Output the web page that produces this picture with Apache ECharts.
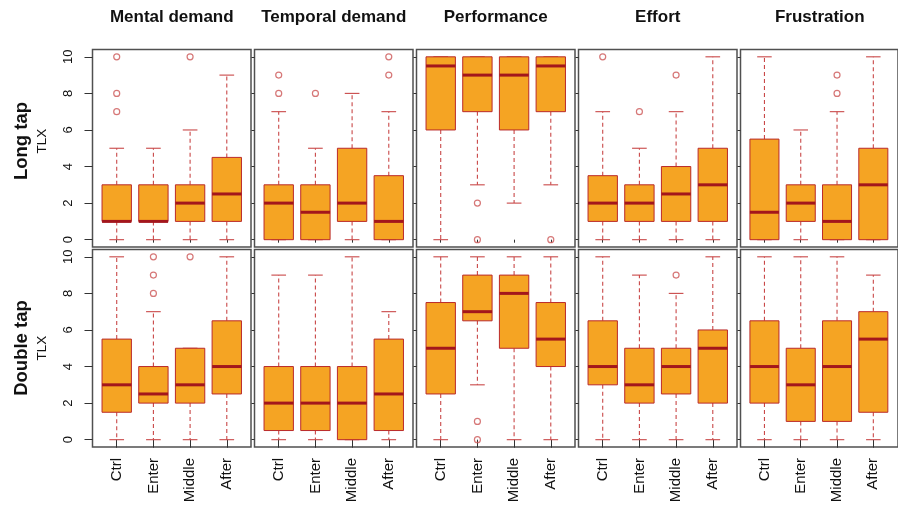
<!DOCTYPE html>
<html><head><meta charset="utf-8">
<script src="https://cdn.jsdelivr.net/npm/echarts@6/dist/echarts.min.js"></script>
<style>html,body{margin:0;padding:0;background:#fff}#c{width:898px;height:506px}</style>
</head><body><div id="c"></div>
<script>
const categories = ['Ctrl', 'Enter', 'Middle', 'After'];
const measures = ['Mental demand', 'Temporal demand', 'Performance', 'Effort', 'Frustration'];
const rowLabels = ['Long tap', 'Double tap'];
const rowSubLabel = 'TLX';
const yTicks = [0, 2, 4, 6, 8, 10];

// five-number summaries [low whisker, Q1, median, Q3, high whisker], one per category
const longMental = [[0,1,1,3,5],[0,1,1,3,5],[0,1,2,3,6],[0,1,2.5,4.5,9]];
const longTemporal = [[0,0,2,3,7],[0,0,1.5,3,5],[0,1,2,5,8],[0,0,1,3.5,7]];
const longPerformance = [[0,6,9.5,10,10],[3,7,9,10,10],[2,6,9,10,10],[3,7,9.5,10,10]];
const longEffort = [[0,1,2,3.5,7],[0,1,2,3,5],[0,1,2.5,4,7],[0,1,3,5,10]];
const longFrustration = [[0,0,1.5,5.5,10],[0,1,2,3,6],[0,0,1,3,7],[0,0,3,5,10]];
const doubleMental = [[0,1.5,3,5.5,10],[0,2,2.5,4,7],[0,2,3,5,5],[0,2.5,4,6.5,10]];
const doubleTemporal = [[0,0.5,2,4,9],[0,0.5,2,4,9],[0,0,2,4,10],[0,0.5,2.5,5.5,7]];
const doublePerformance = [[0,2.5,5,7.5,10],[3,6.5,7,9,10],[0,5,8,9,10],[0,4,5.5,7.5,10]];
const doubleEffort = [[0,3,4,6.5,10],[0,2,3,5,9],[0,2.5,4,5,8],[0,2,5,6,10]];
const doubleFrustration = [[0,2,4,6.5,10],[0,1,3,5,10],[0,1,4,6.5,10],[0,1.5,5.5,7,9]];

// outliers [category index, value]
const longMentalOut = [[0,7],[0,8],[0,10],[2,10]];
const longTemporalOut = [[0,8],[0,9],[1,8],[3,9],[3,10]];
const longPerformanceOut = [[1,2],[1,0],[3,0]];
const longEffortOut = [[0,10],[1,7],[2,9]];
const longFrustrationOut = [[2,8],[2,9]];
const doubleMentalOut = [[1,8],[1,9],[1,10],[2,10]];
const doubleTemporalOut = [];
const doublePerformanceOut = [[1,1],[1,0]];
const doubleEffortOut = [[2,9]];
const doubleFrustrationOut = [];

const boxRows = [
  [longMental, longTemporal, longPerformance, longEffort, longFrustration],
  [doubleMental, doubleTemporal, doublePerformance, doubleEffort, doubleFrustration]
];
const outRows = [
  [longMentalOut, longTemporalOut, longPerformanceOut, longEffortOut, longFrustrationOut],
  [doubleMentalOut, doubleTemporalOut, doublePerformanceOut, doubleEffortOut, doubleFrustrationOut]
];

const FILL = '#F5A423', BORDER = '#BA2A2A', MED = '#A3161C', WHISK = '#C94848', FRAME = '#505050';
const FONT = 'Liberation Sans, Arial, sans-serif';
const panelLeft = 92.5, panelStep = 162, panelW = 158.5;
const rowTop = [49.5, 249.5], panelH = 197.5;

const grids = [], xAxes = [], yAxes = [], series = [], graphics = [];

function renderBox(params, api) {
  const x = api.value(0);
  const lo = api.value(1), q1 = api.value(2), med = api.value(3), q3 = api.value(4), hi = api.value(5);
  const half = api.size([0.8, 0])[0] / 2;
  const capHalf = half / 2;
  const pLo = api.coord([x, lo]), pQ1 = api.coord([x, q1]), pMed = api.coord([x, med]);
  const pQ3 = api.coord([x, q3]), pHi = api.coord([x, hi]);
  const cx = pMed[0];
  const dash = { stroke: WHISK, lineWidth: 1.1, lineDash: [4, 3] };
  const solid = { stroke: WHISK, lineWidth: 1.1 };
  const children = [];
  if (pHi[1] < pQ3[1]) children.push({ type: 'line', shape: { x1: cx, y1: pQ3[1], x2: cx, y2: pHi[1] }, style: dash });
  if (pLo[1] > pQ1[1]) children.push({ type: 'line', shape: { x1: cx, y1: pQ1[1], x2: cx, y2: pLo[1] }, style: dash });
  children.push({ type: 'line', shape: { x1: cx - capHalf, y1: pHi[1], x2: cx + capHalf, y2: pHi[1] }, style: solid });
  children.push({ type: 'line', shape: { x1: cx - capHalf, y1: pLo[1], x2: cx + capHalf, y2: pLo[1] }, style: solid });
  children.push({ type: 'rect', shape: { x: cx - half, y: pQ3[1], width: 2 * half, height: pQ1[1] - pQ3[1] },
    style: { fill: FILL, stroke: BORDER, lineWidth: 1 } });
  children.push({ type: 'line', shape: { x1: cx - half, y1: pMed[1], x2: cx + half, y2: pMed[1] },
    style: { stroke: MED, lineWidth: 3 } });
  return { type: 'group', children };
}

for (let r = 0; r < 2; r++) {
  for (let c = 0; c < 5; c++) {
    const gi = r * 5 + c;
    grids.push({ left: panelLeft + c * panelStep, top: rowTop[r], width: c === 4 ? panelW + 1.5 : panelW, height: panelH,
      show: true, borderColor: FRAME, borderWidth: 1.5, backgroundColor: 'transparent' });
    xAxes.push({
      type: 'value', gridIndex: gi, min: 0.34, max: c === 4 ? 4.68 : 4.66,
      axisLine: { show: false }, splitLine: { show: false },
      axisTick: { show: true, customValues: [1, 2, 3, 4], length: r === 1 ? 8 : 3, lineStyle: { color: '#333', width: 1 } },
      axisLabel: { show: r === 1, customValues: [1, 2, 3, 4], rotate: 90, margin: 11, fontSize: 15,
        color: '#111', fontFamily: FONT, formatter: v => categories[Math.round(v) - 1] || '' }
    });
    yAxes.push({
      type: 'value', gridIndex: gi, min: -0.4, max: 10.4,
      axisLine: { show: false }, splitLine: { show: false },
      axisTick: { show: true, customValues: yTicks, length: c === 0 ? 8 : 3, lineStyle: { color: '#333', width: 1 } },
      axisLabel: { show: c === 0, customValues: yTicks, rotate: 90, margin: 18, fontSize: 13, color: '#111', fontFamily: FONT }
    });
    series.push({
      type: 'custom', xAxisIndex: gi, yAxisIndex: gi, renderItem: renderBox,
      encode: { x: 0, y: [1, 2, 3, 4, 5] },
      data: boxRows[r][c].map((s, i) => [i + 1].concat(s)), silent: true, animation: false
    });
    series.push({
      type: 'scatter', xAxisIndex: gi, yAxisIndex: gi, symbol: 'circle', symbolSize: 6,
      itemStyle: { color: 'transparent', borderColor: '#CC5555', borderWidth: 1.2 },
      data: outRows[r][c].map(o => [o[0] + 1, o[1]]), silent: true, animation: false
    });
  }
}

measures.forEach((m, c) => {
  graphics.push({ type: 'text', x: panelLeft + c * panelStep + panelW / 2, y: 17,
    style: { text: m, fontSize: 17, fontWeight: 'bold', fontFamily: FONT, fill: '#111',
      align: 'center', verticalAlign: 'middle', textAlign: 'center', textVerticalAlign: 'middle' } });
});
const rowCenters = [141, 348];
rowLabels.forEach((lab, r) => {
  graphics.push({ type: 'text', x: 22, y: rowCenters[r], rotation: Math.PI / 2,
    style: { text: lab, fontSize: 18.5, fontWeight: 'bold', fontFamily: FONT, fill: '#111',
      align: 'center', verticalAlign: 'middle', textAlign: 'center', textVerticalAlign: 'middle' } });
  graphics.push({ type: 'text', x: 42, y: rowCenters[r], rotation: Math.PI / 2,
    style: { text: rowSubLabel, fontSize: 13.5, fontFamily: FONT, fill: '#111',
      align: 'center', verticalAlign: 'middle', textAlign: 'center', textVerticalAlign: 'middle' } });
});

const chart = echarts.init(document.getElementById('c'));
chart.setOption({
  animation: false, backgroundColor: '#fff',
  grid: grids, xAxis: xAxes, yAxis: yAxes, series: series, graphic: graphics
});
</script>
</body></html>
